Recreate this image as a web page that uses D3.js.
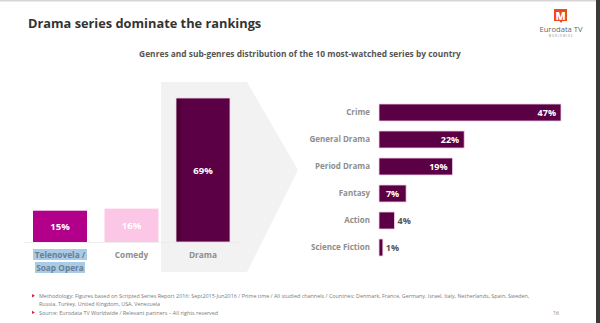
<!DOCTYPE html>
<html>
<head>
<meta charset="utf-8">
<script src="https://cdn.jsdelivr.net/npm/d3@7"></script>
<style>
  body { margin: 0; background: #fff; }
  svg { display: block; font-family: "Open Sans", sans-serif; }
</style>
</head>
<body>
<div id="chart"></div>
<script>
// Genre split (left) and drama sub-genre split (right), in percent
const genres = ["Telenovela / Soap Opera", "Comedy", "Drama"];
const genreValues = [15, 16, 69];
const genreColors = ["#b3008a", "#fcc6e6", "#5b0045"];

const subGenres = ["Crime", "General Drama", "Period Drama", "Fantasy", "Action", "Science Fiction"];
const subGenreValues = [47, 22, 19, 7, 4, 1];

const footnotes = [
  ["Methodology: Figures based on Scripted Series Report 2016: Sept2015-Jun2016 / Prime time / All studied channels / Countries: Denmark, France, Germany, Israel, Italy, Netherlands, Spain, Sweden,",
   "Russia, Turkey, United Kingdom, USA, Venezuela"],
  ["Source: Eurodata TV Worldwide / Relevant partners \u2013 All rights reserved"]
];

const W = 600, H = 323;
const svg = d3.select("#chart").append("svg")
  .attr("width", W)
  .attr("height", H);

// page frame: thin top rule, dark strip on the right
svg.append("rect").attr("x", 0).attr("y", 0).attr("width", W).attr("height", 1.5).attr("fill", "#d6d6d6");
svg.append("rect").attr("x", 596).attr("y", 0).attr("width", 4).attr("height", H).attr("fill", "#3a3a3a");

// title + subtitle
svg.append("text")
  .attr("x", 28).attr("y", 28)
  .attr("font-size", 12.8).attr("font-weight", 700).attr("fill", "#333")
  .text("Drama series dominate the rankings");

svg.append("text")
  .attr("x", 300).attr("y", 57)
  .attr("text-anchor", "middle")
  .attr("font-size", 8.4).attr("font-weight", 700).attr("fill", "#555")
  .text("Genres and sub-genres distribution of the 10 most-watched series by country");

// logo
const logo = svg.append("g").attr("transform", "translate(561,0)");
logo.append("path")
  .attr("d", "M-7,9 L6,9 L6,21 L1.5,21 L0,23 L-1.5,21 L-7,21 Z")
  .attr("fill", "#ea4a1e");
logo.append("text").attr("x", -0.5).attr("y", 19.5).attr("text-anchor", "middle")
  .attr("font-size", 10.5).attr("font-weight", 800).attr("fill", "#fff").text("M");
logo.append("text").attr("x", 0).attr("y", 32).attr("text-anchor", "middle")
  .attr("font-size", 7.6).attr("fill", "#666").text("Eurodata TV");
logo.append("text").attr("x", 0).attr("y", 36.5).attr("text-anchor", "middle")
  .attr("font-size", 2.6).attr("letter-spacing", 1).attr("fill", "#888").text("WORLDWIDE");

// grey arrow behind the drama bar pointing at the breakdown
svg.append("path")
  .attr("d", "M161,82 L247,82 L298,170 L247,272 L161,272 Z")
  .attr("fill", "#f2f2f2");

// ---- left: genre columns ----
const x = d3.scaleBand().domain(genres).range([33, 230]).paddingInner(0.245).paddingOuter(0);
const yLeft = d3.scaleLinear().domain([0, 69]).range([242, 98]);

svg.append("line")
  .attr("x1", 24).attr("x2", 240).attr("y1", 242.5).attr("y2", 242.5)
  .attr("stroke", "#ececec").attr("stroke-width", 1);

const defs = svg.append("defs");
const shade = defs.append("linearGradient").attr("id", "dramaShade");
shade.append("stop").attr("offset", 0).attr("stop-color", "#43002f");
shade.append("stop").attr("offset", 0.12).attr("stop-color", "#5b0045");
shade.append("stop").attr("offset", 1).attr("stop-color", "#5b0045");

const cols = svg.append("g").selectAll("g").data(genres).join("g");
cols.append("rect")
  .attr("x", d => x(d))
  .attr("y", (d, i) => yLeft(genreValues[i]))
  .attr("width", x.bandwidth())
  .attr("height", (d, i) => yLeft(0) - yLeft(genreValues[i]))
  .attr("fill", (d, i) => i === 2 ? "url(#dramaShade)" : genreColors[i])
  .attr("stroke", (d, i) => i === 2 ? "#f6d8ec" : "none")
  .attr("stroke-width", 0.8);

cols.append("text")
  .attr("x", d => x(d) + x.bandwidth() / 2)
  .attr("y", (d, i) => (yLeft(genreValues[i]) + yLeft(0)) / 2 + 3.5)
  .attr("text-anchor", "middle")
  .attr("font-size", 9.5).attr("font-weight", 700).attr("fill", "#fff")
  .text((d, i) => genreValues[i] + "%");

// category labels under the columns (first one wraps, with its selection highlight)
cols.each(function (d, i) {
  const g = d3.select(this);
  const cx = x(d) + x.bandwidth() / 2;
  const lines = i === 0 ? ["Telenovela /", "Soap Opera"] : [d];
  if (i === 0) {
    g.append("rect").attr("x", cx - 27).attr("y", 249).attr("width", 54).attr("height", 11).attr("fill", "#a9cbe6");
    g.append("rect").attr("x", cx - 25).attr("y", 262).attr("width", 50).attr("height", 11).attr("fill", "#a9cbe6");
  }
  lines.forEach((t, k) => {
    g.append("text")
      .attr("x", cx).attr("y", 258 + k * 13)
      .attr("text-anchor", "middle")
      .attr("font-size", 8.3).attr("font-weight", 700)
      .attr("fill", i === 0 ? "#6a7f92" : "#8e8e8e")
      .text(t);
  });
});

// ---- right: drama sub-genre bars ----
const xr = d3.scaleLinear().domain([0, 47]).range([379, 561]);
const yr = d3.scaleBand().domain(subGenres).range([99, 261]).paddingInner(0.37).paddingOuter(0.185);

const rows = svg.append("g").selectAll("g").data(subGenres).join("g")
  .attr("transform", d => `translate(0,${yr(d)})`);

rows.append("rect")
  .attr("x", xr(0))
  .attr("y", 0)
  .attr("width", (d, i) => xr(subGenreValues[i]) - xr(0))
  .attr("height", yr.bandwidth())
  .attr("fill", "#5b0045")
  .attr("stroke", "#f3d3e8").attr("stroke-width", 0.8);

rows.append("text")
  .attr("x", xr(0) - 9)
  .attr("y", yr.bandwidth() / 2 + 3)
  .attr("text-anchor", "end")
  .attr("font-size", 8).attr("font-weight", 700).attr("fill", "#8e8e8e")
  .text(d => d);

rows.append("text")
  .attr("x", (d, i) => {
    const v = subGenreValues[i];
    if (v >= 10) return xr(v) - 5;
    if (v >= 6) return (xr(0) + xr(v)) / 2;
    return xr(v) + 3;
  })
  .attr("y", yr.bandwidth() / 2 + 3.5)
  .attr("text-anchor", (d, i) => {
    const v = subGenreValues[i];
    return v >= 10 ? "end" : v >= 6 ? "middle" : "start";
  })
  .attr("font-size", 9).attr("font-weight", 700)
  .attr("fill", (d, i) => subGenreValues[i] >= 6 ? "#fff" : "#555")
  .text((d, i) => subGenreValues[i] + "%");

// ---- footnotes ----
const foot = svg.append("g").attr("font-size", 5.4).attr("fill", "#7a7a7a");
let fy = 298;
footnotes.forEach((note, n) => {
  if (n === 1) fy += 1.5;
  foot.append("path")
    .attr("d", `M32,${fy - 4} L35,${fy - 2.3} L32,${fy - 0.6} Z`)
    .attr("fill", "#d6294a");
  note.forEach(line => {
    foot.append("text").attr("x", 39).attr("y", fy).text(line);
    fy += 7.6;
  });
});
foot.append("text").attr("x", 553).attr("y", 314.7).text("16");
</script>
</body>
</html>
